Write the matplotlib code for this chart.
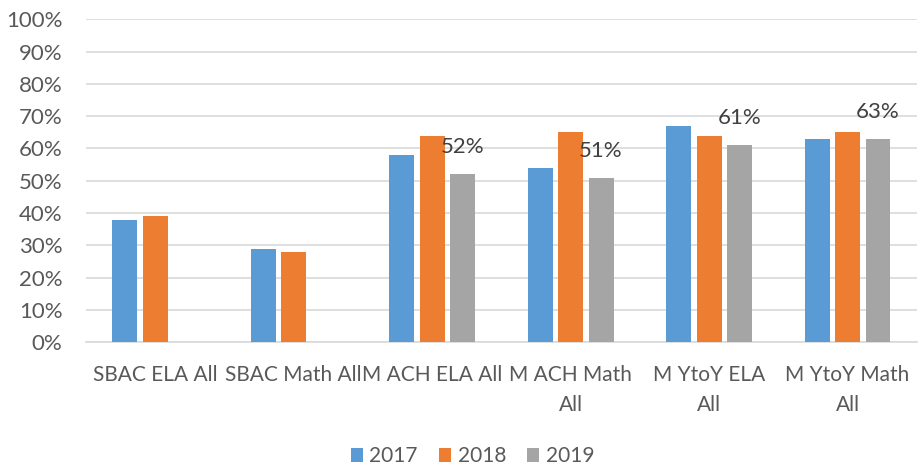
import numpy as np
import matplotlib
matplotlib.use('Agg')
import matplotlib.pyplot as plt

# Datos
categorias = ['SBAC ELA All', 'SBAC Math All', 'M ACH ELA All',
              'M ACH Math\nAll', 'M YtoY ELA\nAll', 'M YtoY Math\nAll']
anios = ['2017', '2018', '2019']
v2017 = [38, 29, 58, 54, 67, 63]
v2018 = [39, 28, 64, 65, 64, 65]
v2019 = [np.nan, np.nan, 52, 51, 61, 63]
colores = ['#5B9BD5', '#ED7D31', '#A5A5A5']

plt.rcParams['font.family'] = ['Lato', 'DejaVu Sans']
texto = '#595959'

fig = plt.figure(figsize=(9.19, 4.68), dpi=100)
ax = fig.add_axes([0.0936, 0.2686, 0.904, 0.6902])

x = np.arange(len(categorias))
paso = 0.22
ancho = 0.18
for i, (serie, color, anio) in enumerate(zip([v2017, v2018, v2019], colores, anios)):
    ax.bar(x + (i - 1) * paso, serie, width=ancho, color=color, label=anio, zorder=3)

# Etiquetas solo para 2019
for xi, v in zip(x, v2019):
    if not np.isnan(v):
        ax.annotate(f'{v:.0f}%', (xi + paso, v), xytext=(0, 27), textcoords='offset pixels',
                    ha='center', va='center', fontsize=16, color='#404040')

ax.set_xlim(-0.5, len(categorias) - 0.5)
ax.set_ylim(0, 100)
ax.set_yticks(np.arange(0, 101, 10))
ax.set_yticklabels([f'{t}%' for t in range(0, 101, 10)])
ax.set_xticks(x)
ax.set_xticklabels(categorias, linespacing=1.65)
ax.tick_params(axis='y', length=0, labelsize=16, labelcolor=texto, pad=17)
ax.tick_params(axis='x', length=0, labelsize=15, labelcolor=texto, pad=16)
for label in ax.get_xticklabels():
    label.set_va('top')

ax.grid(axis='y', color='#D9D9D9', linewidth=1.2, zorder=0)
for s in ['top', 'right', 'left']:
    ax.spines[s].set_visible(False)
ax.spines['bottom'].set_color('#D9D9D9')
ax.spines['bottom'].set_linewidth(1.2)

fig.legend(loc='center', bbox_to_anchor=(0.514, 0.025), ncol=3, frameon=False,
           fontsize=15, labelcolor=texto, handlelength=0.6, handleheight=0.6,
           handletextpad=0.3, columnspacing=1.0)

plt.savefig('out.png', dpi=100)
